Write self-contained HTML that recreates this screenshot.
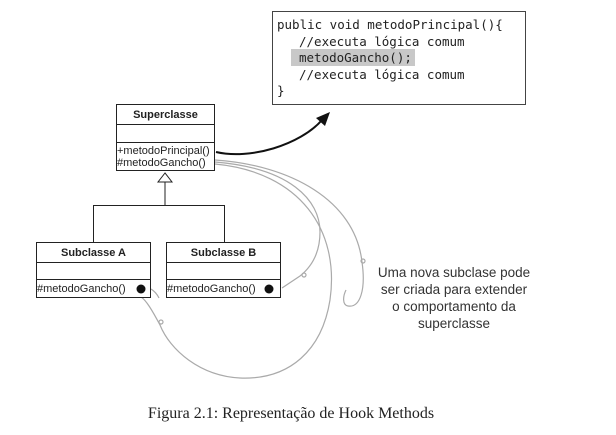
<!DOCTYPE html>
<html><head><meta charset="utf-8"><style>
html,body{margin:0;padding:0;background:#fff;}
svg{display:block;}
.sans{font-family:"Liberation Sans",sans-serif;}
.mono{font-family:"DejaVu Sans Mono","Liberation Mono",monospace;}
</style></head><body>
<svg width="616" height="435" viewBox="0 0 616 435">
<rect width="616" height="435" fill="#fff"/>
<g>
<rect x="272.5" y="11.5" width="253" height="93" fill="#fff" stroke="#444" stroke-width="1"/>
<rect x="291" y="49" width="124" height="17" fill="#c8c8c8"/>
<g class="mono" font-size="12.5" fill="#222">
<text x="277" y="29">public void metodoPrincipal(){</text>
<text x="299" y="46">//executa lógica comum</text>
<text x="299" y="62">metodoGancho();</text>
<text x="299" y="79">//executa lógica comum</text>
<text x="277" y="95">}</text>
</g></g>
<path d="M216 152 C250 160 300 145 322 120" fill="none" stroke="#111" stroke-width="2"/>
<polygon points="330,112 316,118 325,126" fill="#111"/>
<g fill="none" stroke="#aaa" stroke-width="1.2">
<path d="M215 160 C290 165 355 200 362 262 C366 290 360 308 348 306 C342 305 343 296 346 290"/>
<path d="M215 162 C290 168 320 200 320 232 C320 255 310 268 300 276 L282 288"/>
<path d="M278 282 L272 285"/>
<path d="M215 164 C300 172 340 230 330 300 C322 350 290 380 240 378 C200 376 170 350 160 325 C152 310 146 300 141 297"/>
<path d="M151 289 C156 292 158 296 159 298"/>
<circle cx="363" cy="261" r="2"/>
<circle cx="304" cy="275" r="2"/>
<circle cx="161" cy="322" r="2"/>
</g>
<g stroke="#222" fill="#fff">
<rect x="116.5" y="104.5" width="98" height="66"/>
<line x1="116.5" y1="124.5" x2="214.5" y2="124.5"/>
<line x1="116.5" y1="142.5" x2="214.5" y2="142.5"/>
</g>
<g class="sans" fill="#222" font-size="11">
<text x="165.5" y="118" text-anchor="middle" font-weight="bold">Superclasse</text>
<text x="117" y="154">+metodoPrincipal()</text>
<text x="117" y="166">#metodoGancho()</text>
</g>
<g stroke="#222" fill="none">
<polygon points="165,173 158,182 172,182" fill="#fff"/>
<line x1="165" y1="182" x2="165" y2="205"/>
<line x1="93.5" y1="205.5" x2="224.5" y2="205.5"/>
<line x1="93.5" y1="205" x2="93.5" y2="242"/>
<line x1="224.5" y1="205" x2="224.5" y2="242"/>
</g>
<g stroke="#222" fill="#fff">
<rect x="36.5" y="242.5" width="114" height="55"/>
<line x1="36.5" y1="262.5" x2="150.5" y2="262.5"/>
<line x1="36.5" y1="279.5" x2="150.5" y2="279.5"/>
</g>
<g stroke="#222" fill="#fff">
<rect x="166.5" y="242.5" width="114" height="55"/>
<line x1="166.5" y1="262.5" x2="280.5" y2="262.5"/>
<line x1="166.5" y1="279.5" x2="280.5" y2="279.5"/>
</g>
<g class="sans" fill="#222" font-size="11">
<text x="93.5" y="256" text-anchor="middle" font-weight="bold">Subclasse A</text>
<text x="37" y="292">#metodoGancho()</text>
<text x="223.5" y="256" text-anchor="middle" font-weight="bold">Subclasse B</text>
<text x="167" y="292">#metodoGancho()</text>
</g>
<circle cx="141" cy="289" r="4.5" fill="#111"/>
<circle cx="269" cy="289" r="4.5" fill="#111"/>
<g class="sans" font-size="13.5" fill="#333" text-anchor="middle">
<text x="454" y="277">Uma nova subclase pode</text>
<text x="454" y="294">ser criada para extender</text>
<text x="454" y="311">o comportamento da</text>
<text x="454" y="328">superclasse</text>
</g>
<text x="291" y="418" text-anchor="middle" font-family="Liberation Serif,serif" font-size="16" fill="#222">Figura 2.1: Representação de Hook Methods</text>
</svg>
</body></html>
